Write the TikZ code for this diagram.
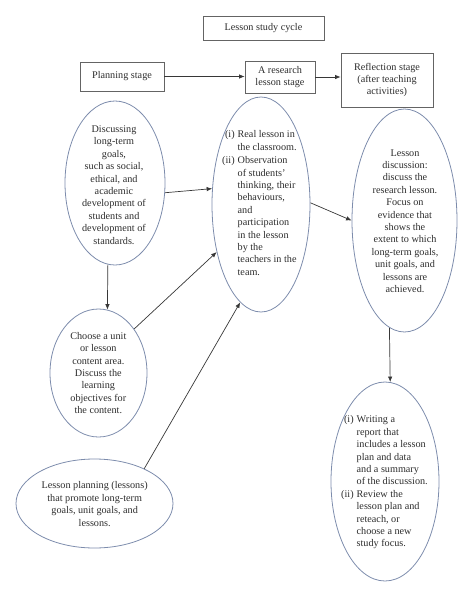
\documentclass[tikz,border=0pt]{standalone}
\usepackage{fontspec}
\setmainfont{Liberation Serif}
\usetikzlibrary{shapes.geometric,arrows.meta,calc}
\definecolor{ellc}{RGB}{125,140,172}
\definecolor{boxc}{RGB}{100,100,100}
\definecolor{arrc}{RGB}{55,55,55}
\definecolor{txtc}{RGB}{45,45,45}
\begin{document}
\begin{tikzpicture}[x=1pt,y=-1pt,
  every node/.style={text=txtc, font=\fontsize{10.2}{12.4}\selectfont},
  stagebox/.style={draw=boxc, line width=0.8pt, rectangle, inner sep=0pt, align=center},
  oval/.style={draw=ellc, line width=0.8pt, ellipse, inner sep=0pt},
  txt/.style={inner sep=0pt, align=center},
  conn/.style={draw=arrc, line width=0.7pt, -{Latex[length=5.5pt,width=4.5pt]}}]
\useasboundingbox (0,0) rectangle (474,598);
% boxes
\node[stagebox, minimum width=121pt, minimum height=24pt] (title) at (263.5,28) {Lesson study cycle};
\node[stagebox, minimum width=84pt, minimum height=29pt] (plan) at (122,76.5) {Planning stage};
\node[stagebox, minimum width=70pt, minimum height=32pt] (research) at (280,77) {A research\\lesson stage};
\node[stagebox, minimum width=92pt, minimum height=54pt] (reflect) at (387,80) {Reflection stage\\(after teaching\\activities)};
% ellipses
\node[oval, minimum width=100pt, minimum height=164pt] (e1) at (115,183) {};
\node[oval, minimum width=98pt, minimum height=215pt] (e2) at (261,204.5) {};
\node[oval, minimum width=105pt, minimum height=223pt] (e3) at (404.5,220.5) {};
\node[oval, minimum width=97pt, minimum height=128pt] (e4) at (98.5,373) {};
\node[oval, minimum width=157pt, minimum height=89pt] (e5) at (94.5,503.5) {};
\node[oval, minimum width=108pt, minimum height=199pt] (e6) at (385,481.5) {};
% texts
\node[txt] (t1) at (114,185) {Discussing\\long-term\\goals,\\such as social,\\ethical, and\\academic\\development of\\students and\\development of\\standards.};
\node[txt, anchor=north west] (t2) at (222,129) {%
\begin{tabular}{@{}r@{\hspace{3pt}}l@{}}
(i) & Real lesson in\\
    & the classroom.\\[1pt]
(ii) & Observation\\
    & of students'\\
    & thinking, their\\
    & behaviours,\\
    & and\\
    & participation\\
    & in the lesson\\
    & by the\\
    & teachers in the\\
    & team.
\end{tabular}};
\node[txt] (t3) at (405,221) {Lesson\\discussion:\\discuss the\\research lesson.\\Focus on\\evidence that\\shows the\\extent to which\\long-term goals,\\unit goals, and\\lessons are\\achieved.};
\node[txt] (t4) at (98.3,373) {Choose a unit\\or lesson\\content area.\\Discuss the\\learning\\objectives for\\the content.};
\node[txt] (t5) at (94.7,504) {Lesson planning (lessons)\\that promote long-term\\goals, unit goals, and\\lessons.};
\node[txt, anchor=north west] (t6) at (341,414) {%
\begin{tabular}{@{}r@{\hspace{3pt}}l@{}}
(i) & Writing a\\
    & report that\\
    & includes a lesson\\
    & plan and data\\
    & and a summary\\
    & of the discussion.\\
(ii) & Review the\\
    & lesson plan and\\
    & reteach, or\\
    & choose a new\\
    & study focus.
\end{tabular}};
% connectors
\draw[conn] (plan.east) -- (plan.east -| research.west);
\draw[conn] (research.east) -- (research.east -| reflect.west);
\draw[conn] (e1.-11) -- (e2.162);
\draw[conn] (e1.-95.6) -- (e4.82.3);
\draw[conn] (e4.51.9) -- (e2.227.8);
\draw[conn] (e5.35.9) -- (e2.258.2);
\draw[conn] (e2.2) -- (e3.west);
\draw[conn] (e3.-98.3) -- (e6.87.7);
\end{tikzpicture}
\end{document}
